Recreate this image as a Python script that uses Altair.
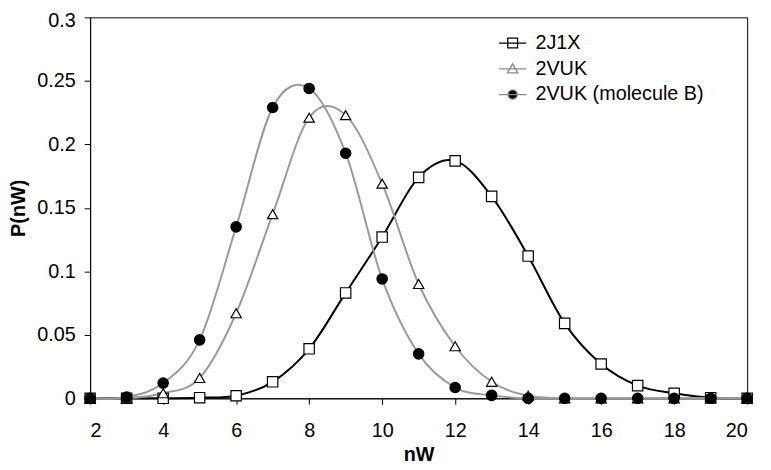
import altair as alt
import pandas as pd

nw = list(range(2, 21))
p_2j1x = [0, 0, 0, 0.0005, 0.002, 0.013, 0.039, 0.083, 0.127, 0.174, 0.187, 0.159, 0.112, 0.059, 0.027, 0.010, 0.004, 0.0005, 0]
p_2vuk = [0, 0, 0.004, 0.016, 0.067, 0.145, 0.221, 0.223, 0.169, 0.090, 0.041, 0.013, 0.002, 0, 0, 0, 0, 0, 0]
p_2vukb = [0, 0.001, 0.012, 0.046, 0.135, 0.229, 0.244, 0.193, 0.094, 0.035, 0.0085, 0.0023, 0, 0, 0, 0, 0, 0, 0]
series = ["2J1X", "2VUK", "2VUK (molecule B)"]
x_ticks = [2, 4, 6, 8, 10, 12, 14, 16, 18, 20]
y_ticks = [0, 0.05, 0.1, 0.15, 0.2, 0.25, 0.3]

rows = []
for name, vals in zip(series, [p_2j1x, p_2vuk, p_2vukb]):
    for x, v in zip(nw, vals):
        rows.append({"nW": x, "P": v, "series": name, "leg": name})
df = pd.DataFrame(rows)

FONT = "Liberation Sans"
line_colors = ["#000000", "#9a9a9a", "#9a9a9a"]

xenc = alt.X("nW:Q", scale=alt.Scale(domain=[2, 20], nice=False),
             axis=alt.Axis(values=x_ticks, title="nW", grid=False, tickSize=6,
                           labelPadding=17, titlePadding=4, format="d"))
yenc = alt.Y("P:Q", scale=alt.Scale(domain=[0, 0.3], nice=False),
             axis=alt.Axis(values=y_ticks, title="P(nW)", grid=False, tickSize=6,
                           labelPadding=9, titlePadding=8, format="~g",
                           labelOffset={"condition": {"test": "datum.value >= 0.29", "value": 3}, "value": 0}))

base = alt.Chart(df)

lines = base.mark_line(interpolate="cardinal", strokeWidth=2).encode(
    x=xenc, y=yenc,
    color=alt.Color("series:N", scale=alt.Scale(domain=series, range=line_colors), legend=None),
    detail="series:N",
)

points = base.mark_point(filled=False, size=110, strokeWidth=1.2, opacity=1).encode(
    x="nW:Q", y="P:Q",
    shape=alt.Shape("series:N", scale=alt.Scale(domain=series, range=["square", "triangle-up", "circle"]), legend=None),
    fill=alt.Fill("series:N", scale=alt.Scale(domain=series, range=["#ffffff", "#ffffff", "#000000"]), legend=None),
    stroke=alt.value("#000000"),
)

leg_paths = [
    "M-2.5,0H2.5M-0.9,-0.9H0.9V0.9H-0.9Z",
    "M-2.5,0H2.5M0,-0.9L0.95,0.75H-0.95Z",
    "M-2.5,0H2.5M0.85,0A0.85,0.85,0,1,1,-0.85,0A0.85,0.85,0,1,1,0.85,0Z",
]
legend = alt.Legend(title=None, orient="none", legendX=417, legendY=16,
                    labelFont=FONT, labelFontSize=20, labelColor="#000000",
                    symbolSize=121, symbolStrokeWidth=1.3, labelOffset=13,
                    rowPadding=6, padding=0, labelLimit=400, symbolOpacity=1)
leg_layer = base.transform_filter("datum.nW < 0").mark_point(filled=False, size=121, opacity=1).encode(
    x="nW:Q", y="P:Q",
    shape=alt.Shape("leg:N", scale=alt.Scale(domain=series, range=leg_paths), legend=legend),
    stroke=alt.Stroke("leg:N", scale=alt.Scale(domain=series, range=["#000000", "#8a8a8a", "#8a8a8a"]), legend=legend),
    fill=alt.Fill("leg:N", scale=alt.Scale(domain=series, range=["#ffffff", "#ffffff", "#000000"]), legend=legend),
)

chart = alt.layer(lines, points, leg_layer).resolve_scale(
    shape="independent", fill="independent", stroke="independent"
).resolve_legend(
    shape="independent", fill="independent", stroke="independent"
).properties(
    width=664, height=385,
    autosize=alt.AutoSizeParams(type="none"),
    padding={"left": 83, "top": 7, "right": 16, "bottom": 70},
    background="#ffffff",
).configure_view(
    stroke="#000000", strokeWidth=1
).configure_axis(
    labelFont=FONT, labelFontSize=20, labelColor="#000000",
    titleFont=FONT, titleFontSize=20, titleFontWeight="bold", titleColor="#000000",
    domainColor="#000000", tickColor="#000000", domainWidth=1,
)

chart.save("out.html", embed_options={"renderer": "svg", "actions": False})
